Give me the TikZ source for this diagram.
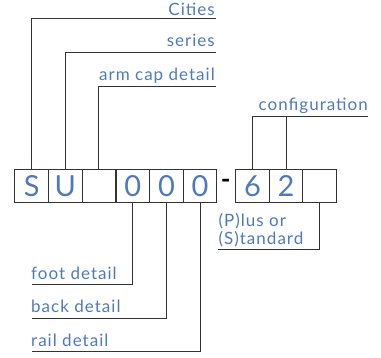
\documentclass[tikz,border=0pt]{standalone}
\usepackage{fontspec}
\setmainfont{Lato}
\newfontfamily\lblfont[LetterSpace=6]{Lato}
\definecolor{lblblue}{HTML}{4F79BD}
\definecolor{linegray}{HTML}{333333}
\begin{document}
\begin{tikzpicture}[x=1pt,y=-1pt,
  cell/.style={draw=linegray,line width=0.9pt,minimum width=33.6pt,minimum height=33pt,inner sep=0pt,
    text=lblblue,font=\fontsize{29}{29}\selectfont,anchor=north west},
  lead/.style={draw=linegray,line width=0.9pt},
  lbl/.style={text=lblblue,font=\lblfont\fontsize{17}{17.6}\selectfont,inner sep=0pt}]
\useasboundingbox (0,0) rectangle (381,357);
% boxes
\node[cell] (b1) at (14.4,169) {S};
\node[cell] (b2) at (48,169) {U};
\node[cell] (b3) at (81.6,169) {};
\node[cell] (b4) at (115.6,169) {0};
\node[cell] (b5) at (149.2,169) {0};
\node[cell] (b6) at (182.8,169) {0};
\node[font=\fontsize{26}{26}\selectfont\bfseries,inner sep=0pt] (dash) at (225.6,184) {-};
\node[cell] (c1) at (235.2,169) {6};
\node[cell] (c2) at (268.8,169) {2};
\node[cell] (c3) at (302.4,169) {};
% top labels
\coordinate (e1) at (216,18.3);
\coordinate (e2) at (216,52.3);
\coordinate (e3) at (216,86.3);
\node[lbl,anchor=base east] (t1) at (215,15.5) {Cities};
\node[lbl,anchor=base east] (t2) at (215,46) {series};
\node[lbl,anchor=base east] (t3) at (215,80) {arm cap detail};
\draw[lead] (b1.north) |- (e1);
\draw[lead] (b2.north) |- (e2);
\draw[lead] (b3.north) |- (e3);
% configuration
\coordinate (cfgend) at (368,116.7);
\node[lbl,anchor=base east] (t4) at (368,110.7) {configuration};
\draw[lead] (c1.north) |- (cfgend);
\draw[lead] (c2.north) -- (c2.north |- cfgend);
% bottom labels
\coordinate (f1) at (31.7,284);
\coordinate (f2) at (31.7,318.3);
\coordinate (f3) at (31.7,351.7);
\node[lbl,anchor=base west] (u1) at (31,279.3) {foot detail};
\node[lbl,anchor=base west] (u2) at (31,312.7) {back detail};
\node[lbl,anchor=base west] (u3) at (31,346.7) {rail detail};
\draw[lead] (b4.south) |- (f1);
\draw[lead] (b5.south) |- (f2);
\draw[lead] (b6.south) |- (f3);
% plus / standard
\coordinate (pend) at (218.3,249.3);
\node[lbl,anchor=base west,align=left] (u4) at (218.3,244.3) {(P)lus or\\(S)tandard};
\draw[lead] (c3.south) |- (pend);
\end{tikzpicture}
\end{document}
